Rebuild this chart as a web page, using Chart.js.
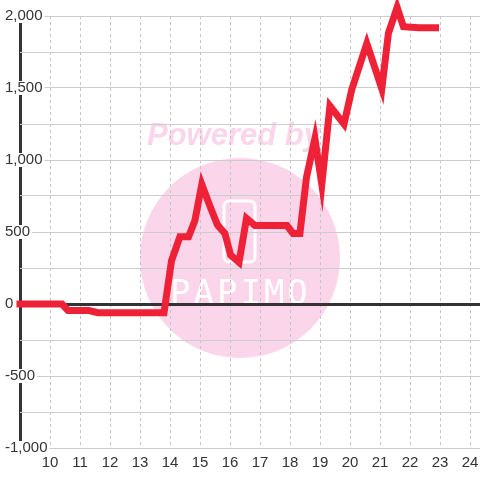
<!DOCTYPE html>
<html>
<head>
<meta charset="utf-8">
<title>chart</title>
<script src="https://cdn.jsdelivr.net/npm/chart.js@4/dist/chart.umd.min.js"></script>
<style>
  body { margin: 0; background: #fff; }
  #chart-container { width: 480px; height: 480px; }
</style>
</head>
<body>
<div id="chart-container"><canvas id="chart" width="480" height="480"></canvas></div>
<script>
'use strict';

// values
const xValues = [9, 10, 10.4, 10.6, 11.3, 11.6, 13.8, 14.05, 14.33, 14.62, 14.83, 15.06, 15.33,
  15.58, 15.83, 16.02, 16.3, 16.55, 16.83, 17.9, 18.1, 18.33, 18.55, 18.83, 19.06, 19.33,
  19.8, 20.06, 20.56, 21.06, 21.28, 21.57, 21.78, 22.3, 22.85];
const yValues = [0, 0, 0, -45, -45, -60, -60, 300, 467, 467, 580, 830, 680,
  550, 490, 340, 290, 595, 545, 545, 490, 490, 880, 1150, 830, 1375,
  1250, 1490, 1810, 1495, 1880, 2060, 1926, 1918, 1918];

const xMin = 9, xMax = 24.333;
const yMin = -1000, yMax = 2000;

const lineColor = '#ef2137';
const textColor = '#333';
const axisColor = '#333';

// pink "Powered by" stamp behind the grid
const watermark = {
  id: 'watermark',
  beforeDraw(chart) {
    const c = chart.ctx;
    c.save();
    c.fillStyle = '#fff';
    c.fillRect(0, 0, chart.width, chart.height);
    c.fillStyle = '#fbd5ea';
    c.beginPath();
    c.arc(240, 258, 100, 0, Math.PI * 2);
    c.fill();
    c.font = 'italic bold 31px "Liberation Sans"';
    c.textBaseline = 'alphabetic';
    c.fillText('Powered by', 147, 145);
    c.strokeStyle = '#fff';
    c.lineWidth = 3;
    c.beginPath();
    c.roundRect(224, 201, 31, 61, 5);
    c.stroke();
    c.fillStyle = '#fff';
    c.font = '34px "DejaVu Sans Mono"';
    c.letterSpacing = '3px';
    c.fillText('PAPIMO', 170, 304);
    c.restore();
  }
};

const points = xValues.map((x, i) => ({ x: x, y: yValues[i] }));

// the x gridline at the left bound doubles as the y axis line
const isLeftEdge = ctx => ctx.tick && ctx.tick.value === xMin;
const isZero = ctx => ctx.tick && ctx.tick.value === 0;

new Chart(document.getElementById('chart'), {
  type: 'line',
  data: {
    datasets: [{
      data: points,
      borderColor: lineColor,
      borderWidth: 7,
      borderJoinStyle: 'miter',
      borderCapStyle: 'square',
      pointRadius: 0,
      tension: 0,
      clip: false
    }]
  },
  options: {
    responsive: false,
    animation: false,
    layout: { padding: { left: 20, top: 16, right: 0, bottom: 2 } },
    plugins: { legend: { display: false }, tooltip: { enabled: false } },
    scales: {
      x: {
        type: 'linear',
        min: xMin,
        max: xMax,
        border: { display: false, dash: ctx => (isLeftEdge(ctx) ? [] : [3, 3]) },
        grid: {
          drawTicks: false,
          color: ctx => (isLeftEdge(ctx) ? axisColor : '#c4c4c4'),
          lineWidth: ctx => (isLeftEdge(ctx) ? 3 : 1)
        },
        ticks: {
          stepSize: 1,
          includeBounds: false,
          padding: 6,
          color: textColor,
          font: { family: '"Liberation Sans"', size: 15 },
          maxRotation: 0,
          autoSkip: false,
          callback: v => (v === xMin ? '' : String(v))
        },
        // no extra room for the last label, the plot runs to the edge
        afterFit: scale => { scale.paddingLeft = 0; scale.paddingRight = 0; }
      },
      y: {
        min: yMin,
        max: yMax,
        border: { display: false },
        grid: {
          drawTicks: false,
          color: ctx => (isZero(ctx) ? axisColor : '#cccccc'),
          lineWidth: ctx => (isZero(ctx) ? 3 : 1)
        },
        ticks: {
          stepSize: 250,
          // labels sit over the axis line, starting near the canvas edge
          mirror: true,
          padding: -5,
          color: textColor,
          font: { family: '"Liberation Sans"', size: 15, lineHeight: 0.8 },
          showLabelBackdrop: true,
          backdropColor: '#fff',
          backdropPadding: { top: 1, bottom: 1, left: 2, right: 2 },
          callback: v => (v % 500 === 0 ? v.toLocaleString('en-US') : '')
        }
      }
    }
  },
  plugins: [watermark]
});
</script>
</body>
</html>
